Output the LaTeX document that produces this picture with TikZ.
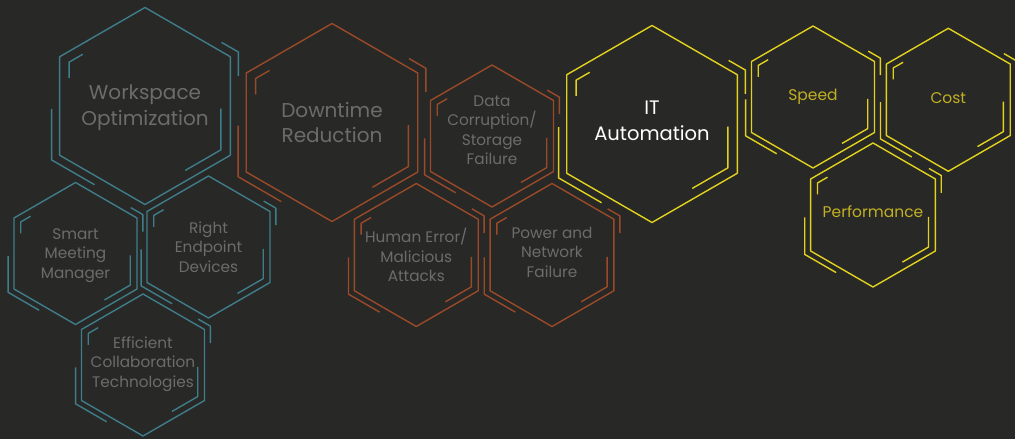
\documentclass[tikz,border=0pt]{standalone}
\usepackage{fontspec}
\setmainfont{Poppins}
\usetikzlibrary{calc}

\definecolor{bgdark}{HTML}{282826}
\definecolor{hexteal}{HTML}{3F7D8B}
\definecolor{hexrust}{HTML}{9A4A28}
\definecolor{hexgold}{HTML}{E2D21E}
\definecolor{labelgray}{HTML}{6C6C6C}
\definecolor{labelgold}{HTML}{C2B024}

\tikzset{
  cellline/.style={line width=1.4pt, line join=round},
  biglabel/.style={labelgray, align=center, font=\fontsize{20}{25.7}\selectfont},
  smalllabel/.style={labelgray, align=center, font=\fontsize{15.3}{19.5}\selectfont},
  goldlabel/.style={labelgold, align=center, font=\fontsize{15.5}{19.5}\selectfont},
  mainlabel/.style={white, align=center, font=\fontsize{19.5}{25.7}\selectfont},
}

% hexagon cell: name, centre, radius, colour, label style, text
\newcommand\hexcell[6]{%
  \pgfmathsetmacro\ro{1.095*#3}
  \pgfmathsetmacro\ri{0.89*#3}
  \begin{scope}[shift={#2}, cellline, draw=#4]
    \draw (90:#3) -- (150:#3) -- (210:#3) -- (270:#3) -- (330:#3) -- (30:#3) -- cycle;
    % outer corners
    \draw ($(30:\ro)!0.18!(90:\ro)$) -- (30:\ro) -- ($(30:\ro)!0.22!(-30:\ro)$);
    \draw ($(210:\ro)!0.47!(150:\ro)$) -- (210:\ro) -- ($(210:\ro)!0.46!(270:\ro)$);
    % inner corners
    \draw ($(150:\ri)!0.18!(90:\ri)$) -- (150:\ri) -- ($(150:\ri)!0.18!(210:\ri)$);
    \draw ($(-30:\ri)!0.47!(30:\ri)$) -- (-30:\ri) -- ($(-30:\ri)!0.47!(-90:\ri)$);
  \end{scope}
  \node[#5] (#1) at #2 {#6};
}

\begin{document}
\begin{tikzpicture}[x=1pt, y=1pt]
  \fill[bgdark] (0,0) rectangle (1015,439);
  \useasboundingbox (0,0) rectangle (1015,439);

  % workspace group
  \hexcell{work}{(145,333)}{98.5}{hexteal}{biglabel, yshift=-2}{Workspace\\Optimization}
  \hexcell{smart}{(75.5,185.5)}{71}{hexteal}{smalllabel, yshift=-2}{Smart\\Meeting\\Manager}
  \hexcell{endpoint}{(208.5,192)}{71}{hexteal}{smalllabel}{Right\\Endpoint\\Devices}
  \hexcell{collab}{(143,74)}{71}{hexteal}{smalllabel, yshift=1}{Efficient\\Collaboration\\Technologies}

  % downtime group
  \hexcell{downtime}{(332,316.5)}{99}{hexrust}{biglabel}{Downtime\\Reduction}
  \hexcell{datafail}{(492,303)}{71}{hexrust}{smalllabel, yshift=6}{Data\\Corruption/\\Storage\\Failure}
  \hexcell{humanerr}{(416.3,184)}{71.5}{hexrust}{smalllabel}{Human Error/\\Malicious\\Attacks}
  \hexcell{powerfail}{(552,184)}{71.5}{hexrust}{smalllabel, yshift=3}{Power and\\Network\\Failure}

  % automation group
  \hexcell{itauto}{(652,315)}{98.5}{hexgold}{mainlabel, yshift=3}{IT\\Automation}
  \hexcell{speed}{(813,342)}{71}{hexgold}{goldlabel}{Speed}
  \hexcell{cost}{(948.3,339.2)}{71.5}{hexgold}{goldlabel, yshift=2}{Cost}
  \hexcell{perform}{(873,224)}{72}{hexgold}{goldlabel, yshift=3}{Performance}
\end{tikzpicture}
\end{document}
